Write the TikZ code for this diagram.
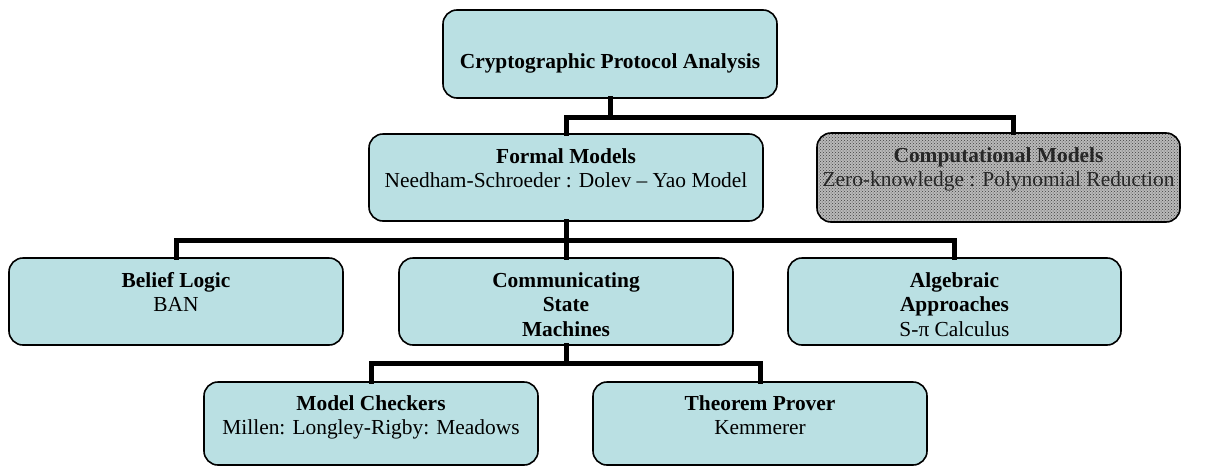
\documentclass[tikz,border=0pt]{standalone}
\usepackage{fontspec}
\setmainfont{Liberation Serif}
\usetikzlibrary{patterns,calc}
\definecolor{boxfill}{RGB}{186,224,227}
\tikzset{
  box/.style={draw=black, line width=1.6pt, rounded corners=14pt, fill=boxfill, inner sep=0pt},
  greybox/.style={draw=black, line width=1.6pt, rounded corners=14pt, inner sep=0pt,
     preaction={fill=gray!55}, pattern=crosshatch dots, pattern color=black!75},
  lbl/.style={anchor=north, align=center, inner sep=0pt, font=\fontsize{21.4}{24.5}\selectfont},
  conn/.style={line width=5pt, line cap=rect, line join=miter}
}
\newcommand{\mkbox}[6]{% name, style, x1, y1, x2, y2
  \node[#2, minimum width={#5-#3}, minimum height={#6-#4}] (#1) at ({(#3+#5)/2},{(#4+#6)/2}) {};}
\begin{document}
\begin{tikzpicture}[x=1pt,y=-1pt]
\useasboundingbox (0,0) rectangle (1209,466);
% boxes
\mkbox{top}{box}{443}{10}{777}{98}
\mkbox{formal}{box}{369}{134}{763}{221}
\mkbox{comp}{greybox}{817}{133}{1180}{222}
\mkbox{belief}{box}{9}{258}{343}{345}
\mkbox{csm}{box}{399}{258}{733}{345}
\mkbox{alg}{box}{788}{258}{1121}{345}
\mkbox{model}{box}{204}{382}{538}{465}
\mkbox{thm}{box}{593}{382}{927}{465}
% labels
\node[lbl, anchor=center] (ttop) at (610,63) {\textbf{Cryptographic Protocol Analysis}};
\node[lbl] (tformal) at ([yshift=-15pt]formal.north) {\textbf{Formal Models}\\Needham-Schroeder : Dolev – Yao Model};
\node[lbl, text=black!85] (tcomp) at ([yshift=-15pt]comp.north) {\textbf{Computational Models}\\Zero-knowledge : Polynomial Reduction};
\node[lbl] (tbelief) at ([yshift=-15pt]belief.north) {\textbf{Belief Logic}\\BAN};
\node[lbl] (tcsm) at ([yshift=-15pt]csm.north) {\textbf{Communicating}\\\textbf{State}\\\textbf{Machines}};
\node[lbl] (talg) at ([yshift=-15pt]alg.north) {\textbf{Algebraic}\\\textbf{Approaches}\\S-π Calculus};
\node[lbl] (tmodel) at ([yshift=-14pt]model.north) {\textbf{Model Checkers}\\Millen: Longley-Rigby: Meadows};
\node[lbl] (tthm) at ([yshift=-14pt]thm.north) {\textbf{Theorem Prover}\\Kemmerer};
% junctions
\coordinate (j1) at (610,117);
\coordinate (j2) at (566,240);
\coordinate (j3) at (566,363);
% connectors
\draw[conn] (top.south) -- (j1);
\draw[conn] (j1) -| (formal.north);
\draw[conn] (j1) -| ([xshift=14.5pt]comp.north);
\draw[conn] (formal.south) -- (j2);
\draw[conn] (j2) -| (belief.north);
\draw[conn] (j2) -| (alg.north);
\draw[conn] (j2) -- (csm.north);
\draw[conn] (csm.south) -- (j3);
\draw[conn] (j3) -| (model.north);
\draw[conn] (j3) -| (thm.north);
\end{tikzpicture}
\end{document}
